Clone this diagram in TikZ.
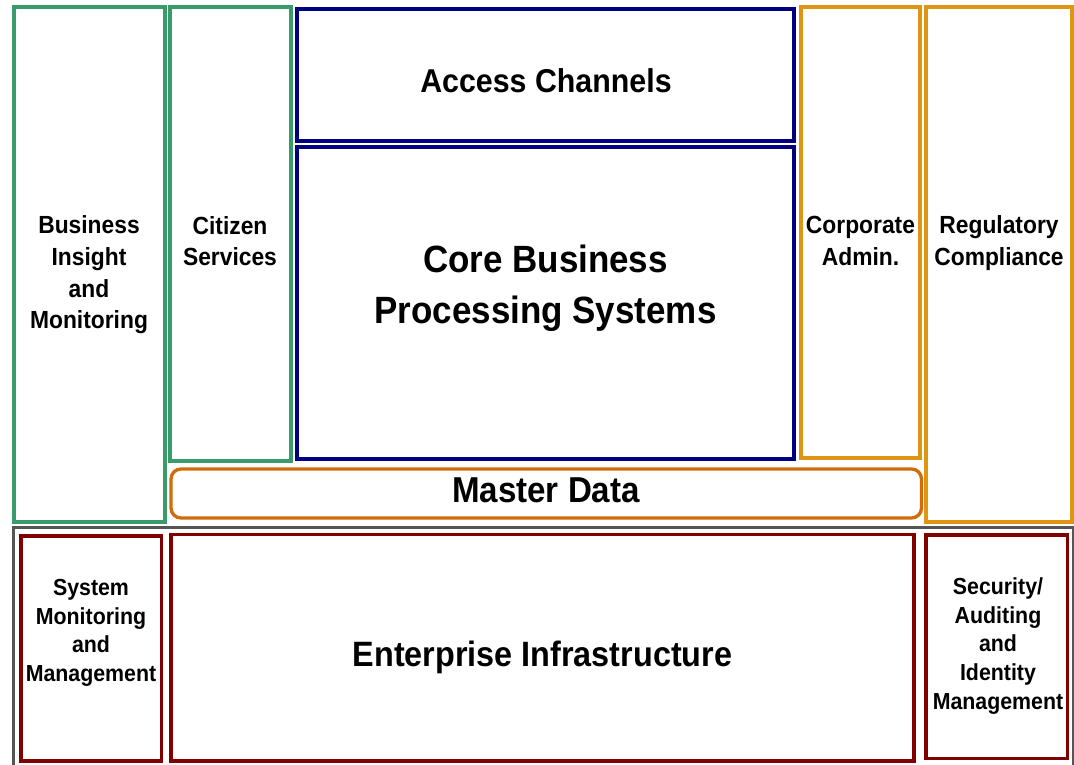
\documentclass[tikz,border=0pt]{standalone}
\usepackage{fontspec}
\setmainfont{Liberation Sans}[FakeStretch=0.92]
\definecolor{cgreen}{RGB}{58,155,106}
\definecolor{cnavy}{RGB}{0,0,128}
\definecolor{cgold}{RGB}{222,150,18}
\definecolor{corange}{RGB}{208,108,10}
\definecolor{cdred}{RGB}{128,0,0}
\definecolor{cgray}{RGB}{85,85,85}
\tikzset{
  gbox/.style={draw=cgreen,line width=4pt},
  nbox/.style={draw=cnavy,line width=3.3pt},
  obox/.style={draw=cgold,line width=4pt},
  mbox/.style={draw=corange,line width=3.3pt,rounded corners=10pt},
  rbox/.style={draw=cdred,line width=3.5pt},
  graybox/.style={draw=cgray,line width=3pt},
  lbl/.style={align=center,inner sep=0pt,text=black,font=\bfseries\fontsize{24.8}{31.7}\selectfont},
  lblb/.style={align=center,inner sep=0pt,text=black,font=\bfseries\fontsize{23.2}{28.7}\selectfont},
  big/.style={align=center,inner sep=0pt,text=black,font=\bfseries\fontsize{#1}{51}\selectfont},
}
\begin{document}
\begin{tikzpicture}[x=1pt,y=-1pt]
\useasboundingbox (0,0) rectangle (1074,765);
\fill[white] (0,0) rectangle (1074,765);
\clip (0,0) rectangle (1074,765);
% boxes
\draw[gbox] (14,7.5) rectangle (164.5,521.5);
\draw[gbox] (169.5,7.5) rectangle (290.7,460.7);
\draw[nbox] (297,9) rectangle (794,141);
\draw[nbox] (297,147) rectangle (794,459);
\draw[obox] (801,7.5) rectangle (920,458);
\draw[obox] (926,7.5) rectangle (1071.5,521.5);
\draw[mbox] (171,469) rectangle (921.5,518);
\draw[graybox] (13,527.5) rectangle (1073,790);
\draw[rbox] (21,536) rectangle (161.5,761);
\draw[rbox] (171,534.5) rectangle (914,761);
\draw[rbox] (926,535) rectangle (1067.5,758.5);
% labels
\node[lbl] (bi) at (89,275) {Business\\Insight\\and\\Monitoring};
\node[lbl] (cs) at (230,241) {Citizen\\Services};
\node[big=33] (ac) at (546,80.5) {Access Channels};
\node[big=38] (cb) at (545.5,288) {Core Business\\Processing Systems};
\node[lbl] (ca) at (860.5,241) {Corporate\\Admin.};
\node[lbl] (rc) at (999,243) {Regulatory\\Compliance};
\node[big=36] (md) at (546,490) {Master Data};
\node[big=35.2] (ei) at (542.5,657.5) {Enterprise Infrastructure};
\node[lblb] (sm) at (91,633) {System\\Monitoring\\and\\Management};
\node[lblb] (sa) at (998,646) {Security/\\Auditing\\and\\Identity\\Management};
\end{tikzpicture}
\end{document}
